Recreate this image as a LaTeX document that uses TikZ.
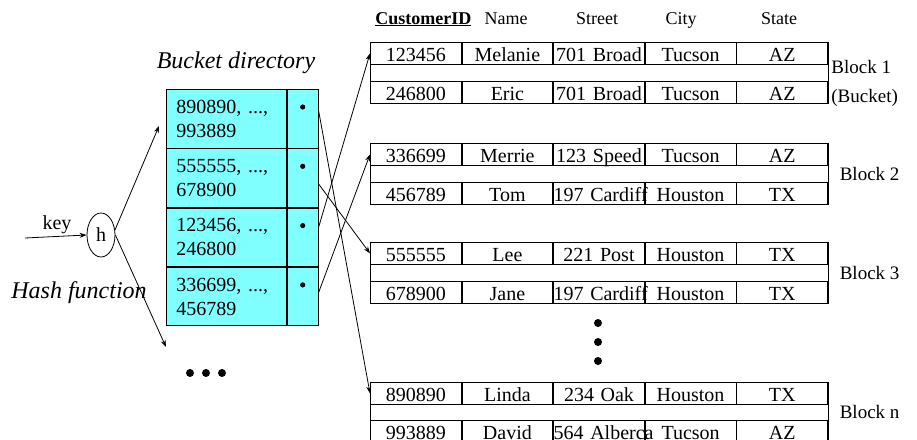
\documentclass[tikz,border=0pt]{standalone}
\usepackage{fontspec}
\setmainfont{Liberation Serif}
\usetikzlibrary{arrows.meta,shapes.geometric,fit}
\definecolor{dircyan}{HTML}{80FFFF}

% one record of a block: five cells side by side
\newcommand{\recrow}[7]{%
  \node[cell] (#1c1) at (370,#2) {\mbox{#3}};
  \node[cell] (#1c2) at (#1c1.north east) {\mbox{#4}};
  \node[cell] (#1c3) at (#1c2.north east) {\mbox{#5}};
  \node[cell] (#1c4) at (#1c3.north east) {\mbox{#6}};
  \node[cell] (#1c5) at (#1c4.north east) {\mbox{#7}};
}

\begin{document}
\begin{tikzpicture}[x=1pt, y=-1pt, line width=0.8pt,
    cell/.style={draw, anchor=north west, minimum width=90.8pt, text width=90.8pt,
      minimum height=22pt, inner sep=0pt, align=center, text height=17pt, text depth=1pt,
      font=\fontsize{20}{22}\selectfont},
    dirkey/.style={draw, fill=dircyan, anchor=north west, minimum width=120pt,
      minimum height=58.5pt, text width=100pt, inner xsep=10pt, inner ysep=0pt,
      align=left, font=\fontsize{20}{24}\selectfont},
    dirptr/.style={draw, fill=dircyan, anchor=north west, minimum width=31pt,
      minimum height=58.5pt, inner sep=0pt},
    blklabel/.style={anchor=west, inner sep=0pt, align=left, font=\fontsize{19}{29}\selectfont},
    ptr/.style={-{Stealth[length=7pt,width=5pt]}}]
  \useasboundingbox (0,0) rectangle (917,439);

  % hash function
  \node[ellipse, draw, minimum width=28pt, minimum height=44pt, inner sep=0pt,
    font=\fontsize{20}{22}\selectfont] (h) at (101,235) {h};
  \coordinate (keyin) at (25,238);
  \draw[ptr] (keyin) -- (h.west);
  \node[anchor=base, inner sep=0pt, font=\fontsize{20}{22}\selectfont] (key) at (57,229) {key};
  \node[anchor=base west, inner sep=0pt, font=\fontsize{24}{28}\itshape] (hashlabel) at (11,298) {Hash function};
  \coordinate (hup) at (159,126);
  \coordinate (hdown) at (166,347);
  \draw[ptr] (h.20) -- (hup);
  \draw[ptr] (h.east) -- (hdown);
  \fill (190,373) circle (4pt) (206,373) circle (4pt) (222,373) circle (4pt);

  % bucket directory
  \node[anchor=base, inner sep=0pt, font=\fontsize{24}{28}\itshape] (dirlabel) at (236,68) {Bucket directory};
  \node[dirkey] (d1) at (166,89) {890890, ...,\\993889};
  \node[dirptr] (p1) at (d1.north east) {};
  \node[dirkey] (d2) at (d1.south west) {555555, ...,\\678900};
  \node[dirptr] (p2) at (d2.north east) {};
  \node[dirkey] (d3) at (d2.south west) {123456, ...,\\246800};
  \node[dirptr] (p3) at (d3.north east) {};
  \node[dirkey] (d4) at (d3.south west) {336699, ...,\\456789};
  \node[dirptr] (p4) at (d4.north east) {};
  \foreach \p in {p1,p2,p3,p4}
    \fill ([yshift=-18pt]\p.north) circle (2.6pt);

  % header
  \node[anchor=base west, inner sep=0pt, font=\fontsize{18}{20}\selectfont] (hid) at (375,24) {\underline{\textbf{CustomerID}}};
  \node[anchor=base, inner sep=0pt, font=\fontsize{18}{20}\selectfont] (hname) at (506,24) {Name};
  \node[anchor=base, inner sep=0pt, font=\fontsize{18}{20}\selectfont] (hstreet) at (597,24) {Street};
  \node[anchor=base, inner sep=0pt, font=\fontsize{18}{20}\selectfont] (hcity) at (681,24) {City};
  \node[anchor=base, inner sep=0pt, font=\fontsize{18}{20}\selectfont] (hstate) at (779,24) {State};

  % blocks
  \recrow{b1r1}{42}{123456}{Melanie}{701 Broad}{Tucson}{AZ}
  \recrow{b1r2}{81}{246800}{Eric}{701 Broad}{Tucson}{AZ}
  \node[draw, fit=(b1r1c1)(b1r2c5), inner sep=0pt] (blk1) {};
  \node[anchor=north west, inner sep=0pt, align=left, font=\fontsize{19}{29}\selectfont] (lab1) at (831,60) {Block 1\\(Bucket)};

  \recrow{b2r1}{143}{336699}{Merrie}{123 Speed}{Tucson}{AZ}
  \recrow{b2r2}{182}{456789}{Tom}{197 Cardiff}{Houston}{TX}
  \node[draw, fit=(b2r1c1)(b2r2c5), inner sep=0pt] (blk2) {};
  \node[blklabel] (lab2) at ([xshift=11pt]blk2.east) {Block 2};

  \recrow{b3r1}{242}{555555}{Lee}{221 Post}{Houston}{TX}
  \recrow{b3r2}{281}{678900}{Jane}{197 Cardiff}{Houston}{TX}
  \node[draw, fit=(b3r1c1)(b3r2c5), inner sep=0pt] (blk3) {};
  \node[blklabel] (lab3) at ([xshift=11pt]blk3.east) {Block 3};

  \fill (598,323) circle (4pt) (598,342) circle (4pt) (598,361) circle (4pt);

  \recrow{bnr1}{382}{890890}{Linda}{234 Oak}{Houston}{TX}
  \recrow{bnr2}{420}{993889}{David}{564 Alberca}{Tucson}{AZ}
  \node[draw, fit=(bnr1c1)(bnr2c5), inner sep=0pt] (blkn) {};
  \node[blklabel] (labn) at ([xshift=11pt]blkn.east) {Block n};

  % directory pointers
  \draw[ptr] ([yshift=8pt]p1.east) -- (bnr1c1.west);
  \draw[ptr] ([yshift=-6pt]p2.east) -- (b3r1c1.west);
  \draw[ptr] ([yshift=10pt]p3.east) -- (b1r1c1.west);
  \draw[ptr] ([yshift=4pt]p4.east) -- (b2r1c1.west);
\end{tikzpicture}
\end{document}
